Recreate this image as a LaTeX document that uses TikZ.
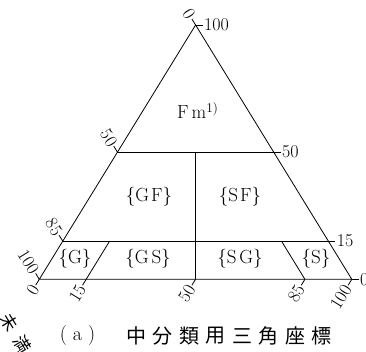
\documentclass[tikz,border=0pt]{standalone}
\usepackage{fontspec}
\newfontfamily\cjk{Noto Sans CJK JP}
\usetikzlibrary{calc}
\begin{document}
\begin{tikzpicture}[x=1pt,y=-1pt,
  lab/.style={font=\fontsize{18}{20}\selectfont, inner sep=1.2pt},
  reg/.style={font=\fontsize{19}{21}\selectfont, inner sep=0pt, anchor=base},
  cjklab/.style={font=\cjk\fontsize{20}{22}\selectfont, inner sep=0pt},
  edge/.style={line width=0.8pt},
  tick/.style={line width=0.8pt},
  ]
\useasboundingbox (0,0) rectangle (366,352);
% corners
\coordinate (A) at (195.6,25);
\coordinate (L) at (39.3,279.3);
\coordinate (R) at (351.8,279.3);
% grid points
\coordinate (L50) at (117.45,152.15);
\coordinate (R50) at (273.7,152.15);
\coordinate (L15) at (62.75,241.15);
\coordinate (R15) at (328.37,241.15);
\coordinate (B15) at (86.18,279.3);
\coordinate (B50) at (195.55,279.3);
\coordinate (B85) at (304.9,279.3);
\coordinate (T15) at (109.6,241.15);
\coordinate (T85) at (281.5,241.15);
\coordinate (M50) at (195.55,152.15);
% triangle and inner lines
\draw[edge] (L) -- (A) -- (R) -- cycle;
\draw[edge] (L50) -- (R50);
\draw[edge] (L15) -- (R15);
\draw[edge] (M50) -- (B50);
\draw[edge] (B15) -- (T15);
\draw[edge] (B85) -- (T85);
% right-side ticks and labels
\draw[tick] (A) -- ++(7,0) coordinate (rA);
\draw[tick] (R50) -- ++(7,0) coordinate (rR50);
\draw[tick] (R15) -- ++(7,0) coordinate (rR15);
\draw[tick] (R) -- ++(7,0) coordinate (rR);
\node[lab, anchor=west] (nr100) at (rA) {100};
\node[lab, anchor=west] (nr50) at (rR50) {50};
\node[lab, anchor=west] (nr15) at (rR15) {15};
\node[lab, anchor=west] (nr0) at (rR) {0};
% left-side ticks and labels
\draw[tick] (A) -- ++(-3.67,-5.96) coordinate (lA);
\draw[tick] (L50) -- ++(-3.67,-5.96) coordinate (lL50);
\draw[tick] (L15) -- ++(-3.67,-5.96) coordinate (lL15);
\draw[tick] (L) -- ++(-3.67,-5.96) coordinate (lL);
\node[lab, anchor=east, rotate=-58.4] (nl0) at (lA) {0};
\node[lab, anchor=east, rotate=-58.4] (nl50) at (lL50) {50};
\node[lab, anchor=east, rotate=-58.4] (nl85) at (lL15) {85};
\node[lab, anchor=east, rotate=-58.4] (nl100) at (lL) {100};
% bottom ticks and labels
\draw[tick] (L) -- ++(-3.67,5.96) coordinate (bL);
\draw[tick] (B15) -- ++(-3.67,5.96) coordinate (bB15);
\draw[tick] (B50) -- ++(-3.67,5.96) coordinate (bB50);
\draw[tick] (B85) -- ++(-3.67,5.96) coordinate (bB85);
\draw[tick] (R) -- ++(-3.67,5.96) coordinate (bR);
\node[lab, anchor=east, rotate=58.4] (nb0) at (bL) {0};
\node[lab, anchor=east, rotate=58.4] (nb15) at (bB15) {15};
\node[lab, anchor=east, rotate=58.4] (nb50) at (bB50) {50};
\node[lab, anchor=east, rotate=58.4] (nb85) at (bB85) {85};
\node[lab, anchor=east, rotate=58.4] (nb100) at (bR) {100};
% region labels
\node[reg, anchor=base west] (fm) at (177,119) {F\kern3pt m\textsuperscript{1)}};
\node[reg] (gf) at (149,201.5) {\{G\kern2pt F\}};
\node[reg] (sf) at (240,201.5) {\{S\kern2pt F\}};
\node[reg] (g) at (75,263.5) {\{G\}};
\node[reg] (gs) at (148,263.5) {\{G\kern3pt S\}};
\node[reg] (sg) at (240,263.5) {\{S\kern3pt G\}};
\node[reg] (s) at (316,263.5) {\{S\}};
% caption
\node[font=\fontsize{20}{22}\selectfont, inner sep=0pt] (capa) at (77.5,336) {(\kern6pt a\kern6pt)};
\foreach \c [count=\i from 0] in {中,分,類,用,三,角,座,標}
  \node[cjklab] (cap\i) at ({136+26.5*\i},336) {\c};
% cut-off rotated text at lower left
\node[cjklab, font=\cjk\fontsize{17}{20}\selectfont, rotate=-58.4] (miman) at (16,333) {未\kern9pt 満};
\end{tikzpicture}
\end{document}
